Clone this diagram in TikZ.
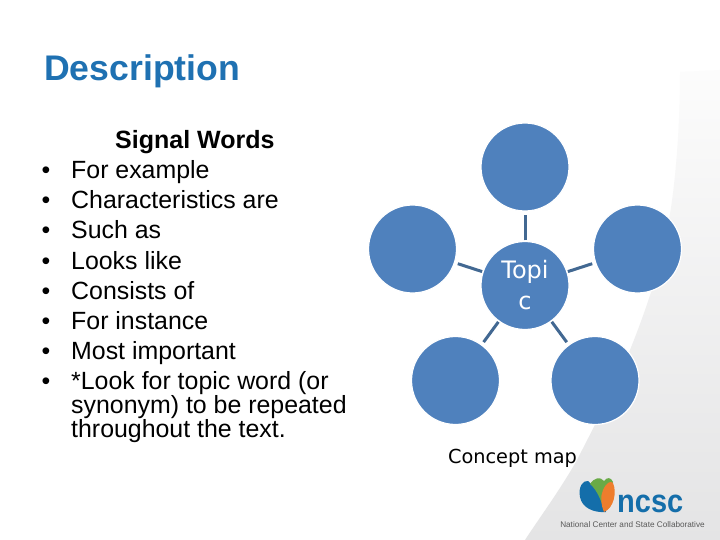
\documentclass[tikz,border=0pt]{standalone}
\usepackage{fontspec}
\setmainfont{Liberation Sans}
\newfontfamily\mapfont{DejaVu Sans}
\usetikzlibrary{positioning}
\definecolor{titleblue}{RGB}{31,113,178}
\definecolor{discblue}{RGB}{79,129,189}
\definecolor{linkblue}{RGB}{66,104,146}
\definecolor{swooshtop}{RGB}{252,252,252}
\definecolor{swooshbottom}{RGB}{228,228,229}
\definecolor{logoblue}{RGB}{20,110,170}
\definecolor{logogreen}{RGB}{105,170,70}
\definecolor{logoorange}{RGB}{238,125,45}
\tikzstyle{disc} = [circle, fill=discblue, draw=white, line width=1.2pt, minimum size=88pt, inner sep=0pt]
\tikzstyle{link} = [draw=linkblue, line width=3pt, shorten >=3pt, shorten <=0.5pt]
\tikzstyle{wordline} = [anchor=base west, inner sep=0pt, font=\fontsize{24.9}{24.9}\selectfont]
\tikzstyle{wordbullet} = [anchor=base, inner sep=0pt, font=\fontsize{24.9}{24.9}\selectfont]
\begin{document}
\begin{tikzpicture}[x=1pt,y=-1pt]
	\useasboundingbox (0,0) rectangle (720,540);
	\fill[white] (0,0) rectangle (720,540);
	% grey sweep behind the logo
	\shade[top color=swooshtop, bottom color=swooshbottom] (720,70) -- (680,72) .. controls (680,130) and (675,190) .. (668,225) .. controls (662,260) and (650,300) .. (630,350) .. controls (618,380) and (600,415) .. (577,460) .. controls (560,490) and (540,517) .. (525,540) -- (720,540) -- cycle;
	\node[anchor=base west, inner sep=0pt, text=titleblue, font=\fontsize{35.6}{36}\selectfont\bfseries] (title) at (44,80.5) {Description};
	\node[wordline, font=\fontsize{25}{25}\selectfont\bfseries] (head) at (115,149) {Signal Words};
	\foreach \ypos/\word/\nodename in {179/For example/a, 209/Characteristics are/b, 239/Such as/c, 269/Looks like/d, 299/Consists of/e, 329/For instance/f, 359/Most important/g, 389/*Look for topic word (or/h}{
		\node[wordbullet] (dot\nodename) at (46,\ypos) {\textbullet};
		\node[wordline] (word\nodename) at (71,\ypos) {\word};
	}
	\node[wordline] (wordi) at (71,413) {synonym) to be repeated};
	\node[wordline] (wordj) at (71,437) {throughout the text.};
	% concept map
	\node[disc, text=white, align=center, font=\mapfont\fontsize{24}{31}\selectfont] (topic) at (525,285.5) {Topi\\c};
	\node[disc] (top) at (525,167) {};
	\node[disc] (left) at (412.5,249) {};
	\node[disc] (right) at (637.5,249) {};
	\node[disc] (lower left) at (455.5,380.5) {};
	\node[disc] (lower right) at (595,380.5) {};
	\foreach \nodename in {top, left, right, lower left, lower right}
		\draw[link] (topic) -- (\nodename);
	\node[anchor=base, inner sep=0pt, font=\mapfont\fontsize{19.3}{21}\selectfont] (caption) at (512.5,463) {Concept map};
	% logo
	\fill[logoblue] (580,497) .. controls (578,487) and (583,480) .. (588,481) .. controls (596,488) and (603,500) .. (606,512) .. controls (594,513) and (582,508) .. (580,497) -- cycle;
	\fill[logogreen] (590,484) .. controls (594,478) and (600,476) .. (604,481) .. controls (607,477) and (611,477) .. (613,482) .. controls (610,490) and (607,500) .. (604,510) .. controls (601,500) and (597,490) .. (590,484) -- cycle;
	\fill[logoorange] (603,490) .. controls (606,483) and (611,480) .. (613,483) .. controls (617,492) and (614,508) .. (604,512) .. controls (601,505) and (600,497) .. (603,490) -- cycle;
	\node[anchor=base west, inner sep=0pt, text=logoblue, font=\fontsize{29}{29}\selectfont\bfseries] (logoname) at (617,512) {\scalebox{1}[1.12]{ncsc}};
	\node[anchor=base, inner sep=0pt, text=black!65, font=\fontsize{8.2}{8}\selectfont] (logotag) at (632.5,527) {National Center and State Collaborative};
\end{tikzpicture}
\end{document}
